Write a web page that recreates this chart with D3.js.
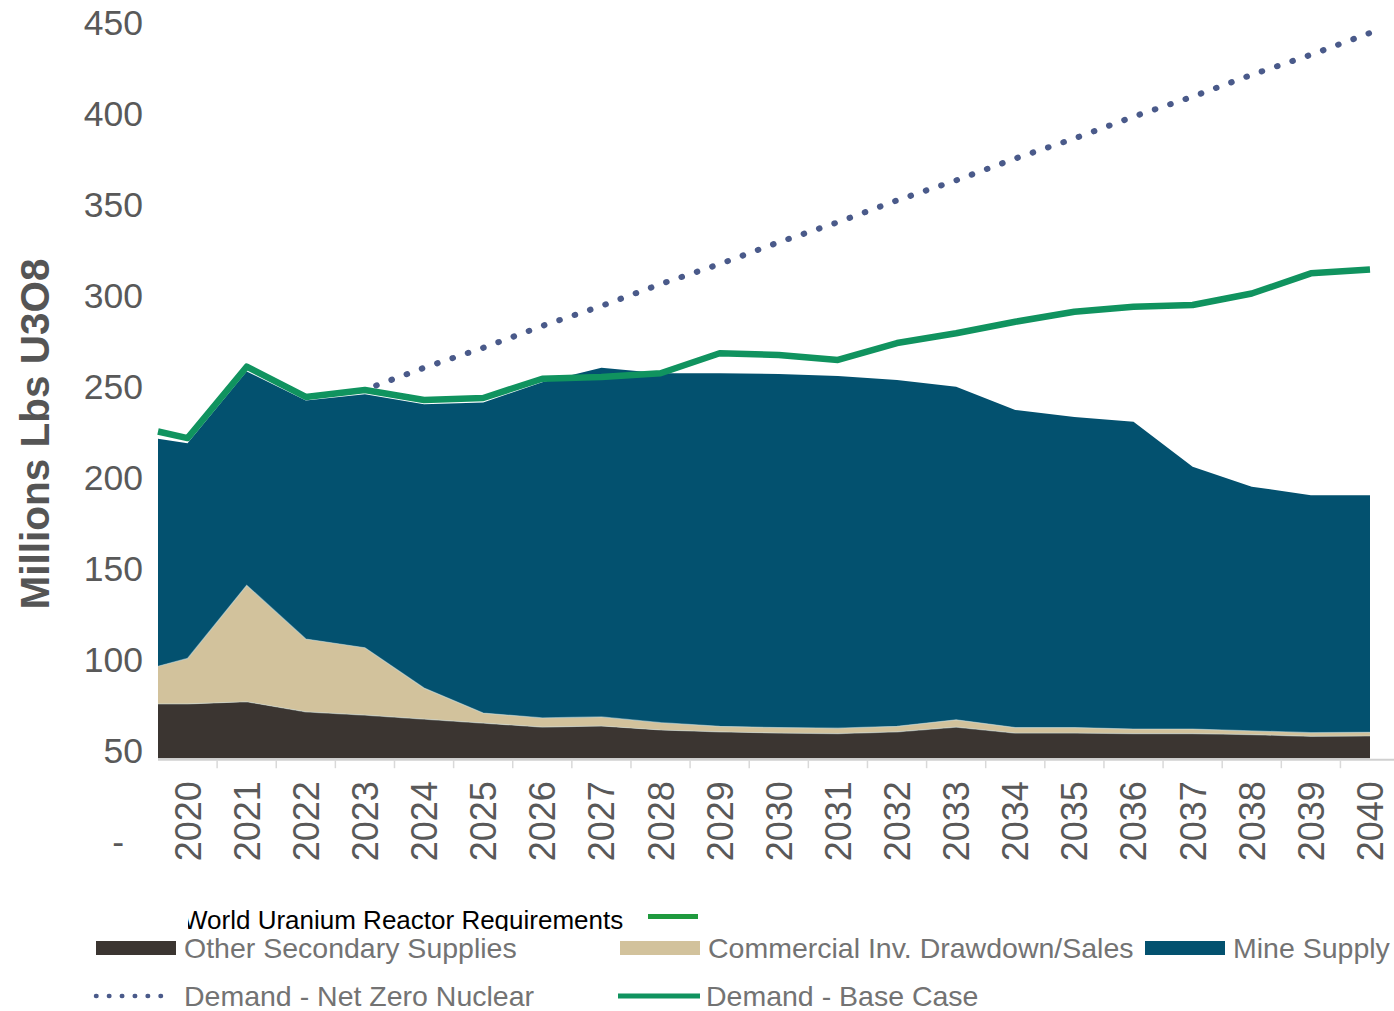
<!DOCTYPE html>
<html>
<head>
<meta charset="utf-8">
<title>World Uranium Supply and Demand</title>
<script src="https://cdn.jsdelivr.net/npm/d3@7"></script>
<style>
  body { margin: 0; background: #fff; }
  svg { display: block; font-family: "Liberation Sans", Arial, sans-serif; }
</style>
</head>
<body>
<script>
// x positions (first point sits on the left edge of the 2020 category)
var xPoints = [2019.5, 2020, 2021, 2022, 2023, 2024, 2025, 2026, 2027, 2028, 2029,
               2030, 2031, 2032, 2033, 2034, 2035, 2036, 2037, 2038, 2039, 2040];
var yearLabels = ["2020", "2021", "2022", "2023", "2024", "2025", "2026", "2027", "2028", "2029",
                  "2030", "2031", "2032", "2033", "2034", "2035", "2036", "2037", "2038", "2039", "2040"];

// stacked supply (millions lbs U3O8)
var otherSecondary = [75.3, 75.3, 76.5, 71.0, 69.2, 67.0, 64.8, 62.6, 63.2, 61.0, 60.0,
                      59.3, 59.0, 60.0, 62.6, 59.3, 59.3, 59.0, 59.0, 58.5, 57.5, 57.7];
var commercialInv = [20.7, 25.0, 64.0, 40.0, 37.0, 17.0, 5.5, 5.0, 5.0, 4.0, 3.0,
                     3.0, 3.0, 3.0, 4.0, 3.0, 3.0, 2.5, 2.5, 2.0, 2.0, 2.0];
var mineSupply = [125.0, 118.3, 117.5, 131.0, 139.3, 156.0, 170.7, 184.5, 191.8, 192.0, 194.0,
                  194.3, 193.5, 190.3, 183.0, 174.5, 170.7, 168.9, 144.1, 134.2, 130.5, 130.3];

// demand lines
var demandBase = [225.0, 221.4, 260.6, 244.0, 247.8, 242.3, 243.4, 254.0, 255.0, 257.0, 268.0,
                  267.0, 264.3, 273.6, 279.0, 285.3, 290.8, 293.6, 294.5, 300.8, 311.9, 314.0];
var netZeroYears = [2023, 2024, 2025, 2026, 2027, 2028, 2029, 2030, 2031,
                    2032, 2033, 2034, 2035, 2036, 2037, 2038, 2039, 2040];
var demandNetZero = [248, 260, 271, 283, 294, 306, 317, 329, 340,
                     352, 363, 375, 386, 398, 409, 421, 432, 444];

var yTicks = [0, 50, 100, 150, 200, 250, 300, 350, 400, 450];

var w = 1394;
var h = 1011;
var colors = {other: "#3b3531", commercial: "#d2c29c", mine: "#03516f",
              base: "#10935f", netzero: "#4a5a8a", text: "#595959", legend: "#737373"};

var svg = d3.select("body").append("svg")
            .attr("width", w)
            .attr("height", h);

svg.append("rect").attr("width", w).attr("height", h).attr("fill", "#fff");

var xScale = d3.scaleLinear()
               .domain([2019.5, 2040])
               .range([158, 1370]);
var yScale = d3.scaleLinear()
               .domain([0, 450])
               .range([841, 22]);

// the category axis sits a little above zero in the original chart
var floorValue = 45.5;
var floorY = yScale(floorValue);

svg.append("clipPath").attr("id", "plotclip")
   .append("rect")
   .attr("x", xScale(2019.5)).attr("y", 0)
   .attr("width", xScale(2040) - xScale(2019.5))
   .attr("height", floorY);

// stack the supply series
var rows = xPoints.map(function(x, i) {
  return {x: x, other: otherSecondary[i], commercial: commercialInv[i], mine: mineSupply[i]};
});
var stack = d3.stack().keys(["other", "commercial", "mine"]);
var layers = stack(rows);

var area = d3.area()
             .x(function(d) { return xScale(d.data.x); })
             .y0(function(d) { return yScale(d[0]); })
             .y1(function(d) { return yScale(d[1]); });

var plot = svg.append("g").attr("clip-path", "url(#plotclip)");

plot.selectAll(".layer")
    .data(layers)
    .enter()
    .append("path")
    .attr("class", "layer")
    .attr("d", area)
    .attr("fill", function(d) { return colors[d.key]; });

// light edge between the layers
var edge = d3.line()
             .x(function(d) { return xScale(d.data.x); })
             .y(function(d) { return yScale(d[1]); });
plot.selectAll(".edge")
    .data(layers.slice(0, 2))
    .enter()
    .append("path")
    .attr("d", edge)
    .attr("fill", "none")
    .attr("stroke", "#cfe0dc")
    .attr("stroke-opacity", 0.5)
    .attr("stroke-width", 1.2);

// x axis line and ticks
var xaxis = svg.append("g").attr("class", "xaxis");
xaxis.append("line")
     .attr("x1", xScale(2019.5)).attr("x2", w)
     .attr("y1", floorY + 1.5).attr("y2", floorY + 1.5)
     .attr("stroke", "#d0d0d0").attr("stroke-width", 2);
xaxis.selectAll(".tick")
     .data(yearLabels.slice(0, -1))
     .enter()
     .append("line")
     .attr("x1", function(d) { return xScale(+d + 0.5); })
     .attr("x2", function(d) { return xScale(+d + 0.5); })
     .attr("y1", floorY + 1.5).attr("y2", floorY + 10)
     .attr("stroke", "#d9d9d9").attr("stroke-width", 1.5);

xaxis.selectAll(".xlabel")
     .data(yearLabels)
     .enter()
     .append("text")
     .attr("class", "xlabel")
     .attr("transform", function(d) {
        return "translate(" + xScale(+d) + "," + (floorY + 23) + ") rotate(-90)";
     })
     .attr("dy", "0.36em")
     .attr("text-anchor", "end")
     .attr("font-size", 36)
     .attr("fill", colors.text)
     .text(function(d) { return d; });

// y axis labels (no axis line in the original)
svg.selectAll(".ylabel")
   .data(yTicks)
   .enter()
   .append("text")
   .attr("class", "ylabel")
   .attr("x", function(d) { return d === 0 ? 124 : 143; })
   .attr("y", function(d) { return yScale(d); })
   .attr("dy", "0.36em")
   .attr("text-anchor", "end")
   .attr("font-size", 35.5)
   .attr("fill", colors.text)
   .text(function(d) { return d === 0 ? "-" : d; });

svg.append("text")
   .attr("transform", "translate(49," + 434 + ") rotate(-90)")
   .attr("text-anchor", "middle")
   .attr("font-size", 40.5)
   .attr("font-weight", "bold")
   .attr("fill", "#555")
   .text("Millions Lbs U3O8");

// demand lines
var baseLine = d3.line()
                 .x(function(d, i) { return xScale(xPoints[i]); })
                 .y(function(d) { return yScale(d); });
svg.append("path")
   .datum(demandBase)
   .attr("d", baseLine)
   .attr("fill", "none")
   .attr("stroke", colors.base)
   .attr("stroke-width", 6.5)
   .attr("stroke-linejoin", "round");

var nzLine = d3.line()
               .x(function(d, i) { return xScale(netZeroYears[i]); })
               .y(function(d) { return yScale(d); });
svg.append("path")
   .datum(demandNetZero)
   .attr("d", nzLine)
   .attr("fill", "none")
   .attr("stroke", colors.netzero)
   .attr("stroke-width", 6)
   .attr("stroke-linecap", "round")
   .attr("stroke-dasharray", "0.6 15.6")
   .attr("stroke-dashoffset", -12);

// legend
svg.append("clipPath").attr("id", "titleclip")
   .append("rect")
   .attr("x", 188).attr("y", 895)
   .attr("width", 460).attr("height", 36);
svg.append("text")
   .attr("clip-path", "url(#titleclip)")
   .attr("x", 183)
   .attr("y", 929)
   .attr("font-size", 26)
   .attr("fill", "#000")
   .text("World Uranium Reactor Requirements");
svg.append("line")
   .attr("x1", 648).attr("x2", 698)
   .attr("y1", 916.5).attr("y2", 916.5)
   .attr("stroke", "#1f9a3e").attr("stroke-width", 5);

var legendItems = [
  {name: "Other Secondary Supplies", type: "rect", color: colors.other, x: 96, row: 0},
  {name: "Commercial Inv. Drawdown/Sales", type: "rect", color: colors.commercial, x: 620, row: 0},
  {name: "Mine Supply", type: "rect", color: colors.mine, x: 1145, row: 0},
  {name: "Demand - Net Zero Nuclear", type: "dot", color: colors.netzero, x: 94, row: 1},
  {name: "Demand - Base Case", type: "line", color: colors.base, x: 618, row: 1}
];
var rowY = [948, 996];

var legend = svg.selectAll(".legend")
                .data(legendItems)
                .enter()
                .append("g")
                .attr("class", "legend")
                .attr("transform", function(d) { return "translate(" + d.x + "," + rowY[d.row] + ")"; });

legend.filter(function(d) { return d.type === "rect"; })
      .append("rect")
      .attr("x", 0).attr("y", -7)
      .attr("width", 80).attr("height", 14)
      .attr("fill", function(d) { return d.color; });
legend.filter(function(d) { return d.type === "line"; })
      .append("line")
      .attr("x1", 0).attr("x2", 82)
      .attr("stroke", function(d) { return d.color; })
      .attr("stroke-width", 5);
legend.filter(function(d) { return d.type === "dot"; })
      .append("line")
      .attr("x1", 2).attr("x2", 78)
      .attr("stroke", function(d) { return d.color; })
      .attr("stroke-width", 4.5)
      .attr("stroke-linecap", "round")
      .attr("stroke-dasharray", "0.5 12.4");
legend.append("text")
      .attr("x", function(d) { return d.type === "dot" ? 90 : 88; })
      .attr("y", 0)
      .attr("dy", "0.34em")
      .attr("font-size", 28.5)
      .attr("fill", colors.legend)
      .text(function(d) { return d.name; });
</script>
</body>
</html>
